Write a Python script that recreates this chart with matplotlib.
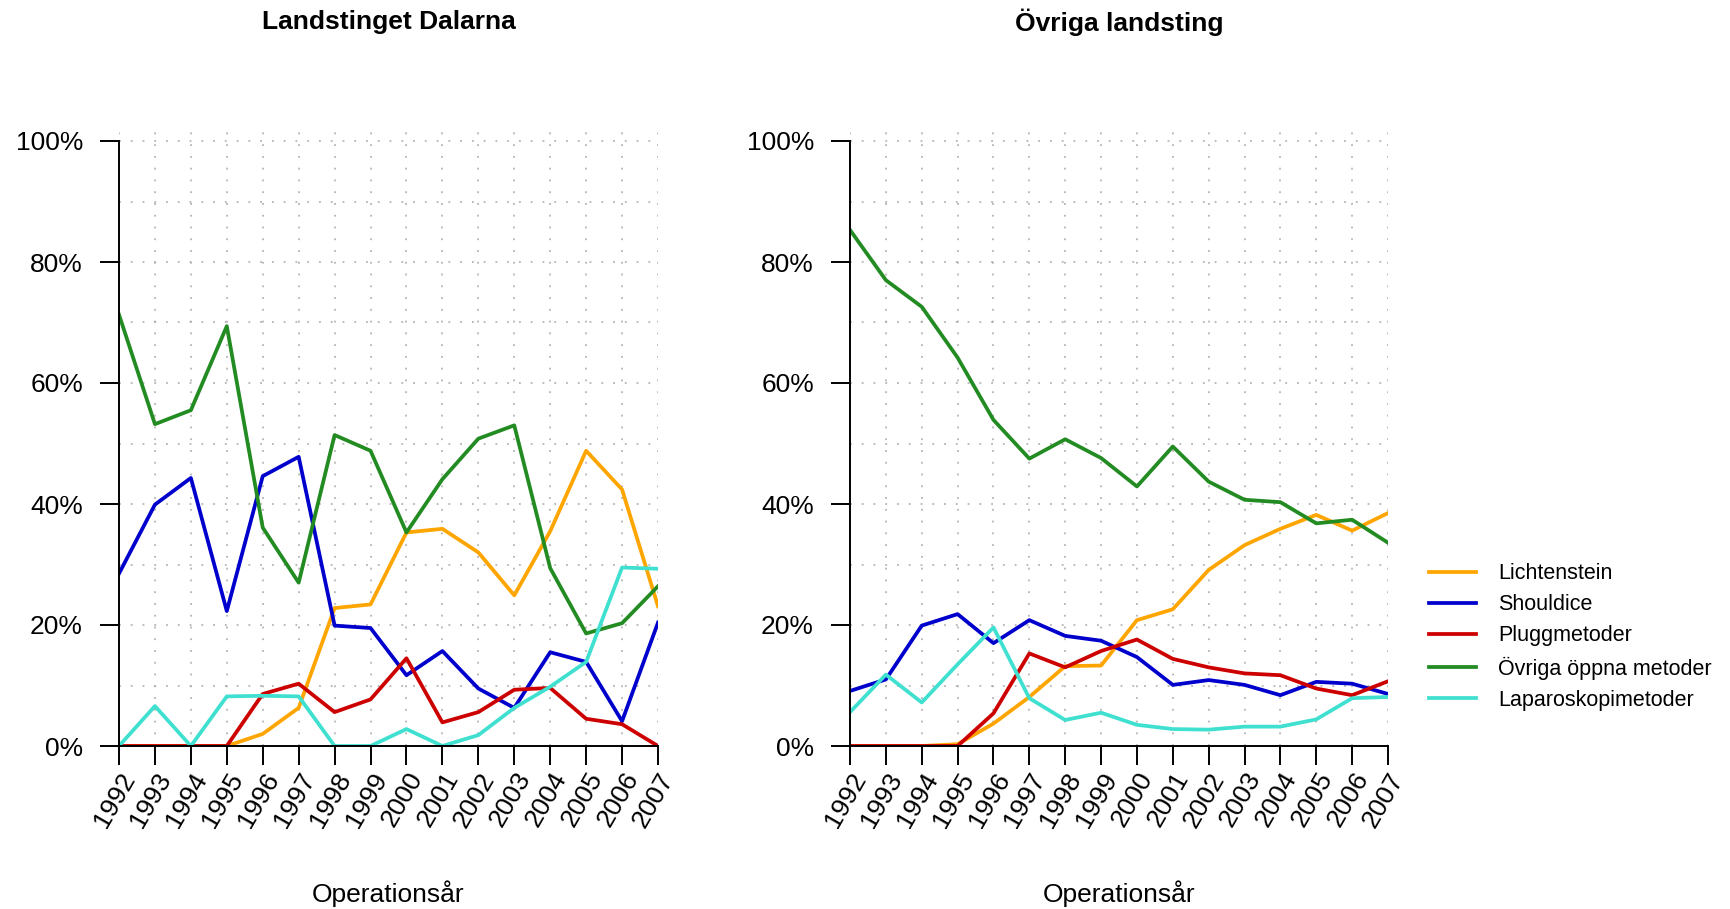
import matplotlib.pyplot as plt
import numpy as np
from matplotlib.ticker import FuncFormatter

plt.rcParams["font.family"] = ["Liberation Sans", "DejaVu Sans"]

years = list(range(1992, 2008))
methods = ["Lichtenstein", "Shouldice", "Pluggmetoder", "Övriga öppna metoder", "Laparoskopimetoder"]
colors = ["#FFA500", "#0000CD", "#CD0000", "#228B22", "#40E0D0"]

# Landstinget Dalarna (andel per operationsår)
dalarna_lichtenstein = [0, 0, 0, 0, 0.020, 0.063, 0.228, 0.234, 0.353, 0.359, 0.320, 0.249, 0.355, 0.488, 0.424, 0.231]
dalarna_shouldice = [0.285, 0.399, 0.443, 0.223, 0.446, 0.478, 0.199, 0.195, 0.117, 0.157, 0.095, 0.063, 0.155, 0.139, 0.041, 0.204]
dalarna_plugg = [0, 0, 0, 0, 0.086, 0.103, 0.056, 0.077, 0.145, 0.039, 0.056, 0.093, 0.096, 0.045, 0.036, 0.0]
dalarna_ovriga = [0.713, 0.532, 0.555, 0.694, 0.361, 0.270, 0.514, 0.488, 0.353, 0.441, 0.508, 0.530, 0.294, 0.186, 0.203, 0.264]
dalarna_laparo = [0, 0.066, 0, 0.082, 0.083, 0.082, 0, 0, 0.028, 0.0, 0.018, 0.063, 0.098, 0.139, 0.295, 0.293]

# Övriga landsting
ovriga_lichtenstein = [0, 0, 0, 0.003, 0.037, 0.081, 0.132, 0.133, 0.208, 0.226, 0.291, 0.332, 0.359, 0.382, 0.356, 0.385]
ovriga_shouldice = [0.091, 0.110, 0.199, 0.218, 0.170, 0.208, 0.182, 0.174, 0.147, 0.101, 0.109, 0.101, 0.084, 0.106, 0.103, 0.086]
ovriga_plugg = [0, 0, 0, 0, 0.054, 0.153, 0.130, 0.157, 0.176, 0.144, 0.130, 0.120, 0.117, 0.095, 0.084, 0.107]
ovriga_ovriga = [0.853, 0.770, 0.726, 0.642, 0.539, 0.475, 0.507, 0.476, 0.429, 0.495, 0.437, 0.407, 0.403, 0.368, 0.374, 0.336]
ovriga_laparo = [0.056, 0.118, 0.072, 0.135, 0.196, 0.079, 0.043, 0.055, 0.035, 0.028, 0.027, 0.032, 0.032, 0.044, 0.079, 0.081]

panels = [
    ("Landstinget Dalarna", [dalarna_lichtenstein, dalarna_shouldice, dalarna_plugg, dalarna_ovriga, dalarna_laparo]),
    ("Övriga landsting", [ovriga_lichtenstein, ovriga_shouldice, ovriga_plugg, ovriga_ovriga, ovriga_laparo]),
]

W, H = 1730, 909
fig = plt.figure(figsize=(W / 100, H / 100), dpi=100)
y0, y1 = 746, 141  # pixel rows for 0% and 100%
ytop = 1.03
ax_h = (y0 - y1) * ytop / H
lefts = [(119, 658), (850, 1388)]
grid_ls = (0, (1.2, 6.5))

axes = []
for (px0, px1), (title, series) in zip(lefts, panels):
    ax = fig.add_axes([px0 / W, 1 - y0 / H, (px1 - px0) / W, ax_h])
    for vals, name, c in zip(series, methods, colors):
        ax.plot(years, vals, color=c, lw=2.7, label=name)
    for yr in years:
        ax.axvline(yr, color="#A8A8A8", lw=1.1, ls=grid_ls, zorder=0)
    for g in np.arange(0.1, 1.01, 0.1):
        ax.axhline(g, color="#A8A8A8", lw=1.1, ls=grid_ls, zorder=0)
    ax.set_xlim(1992, 2007)
    ax.set_ylim(0, ytop)
    ax.spines["top"].set_visible(False)
    ax.spines["right"].set_visible(False)
    ax.spines["left"].set_bounds(0, 1)
    ax.spines["left"].set_linewidth(1.4)
    ax.spines["bottom"].set_linewidth(1.4)
    ax.set_yticks([0, 0.2, 0.4, 0.6, 0.8, 1.0])
    ax.yaxis.set_major_formatter(FuncFormatter(lambda v, p: f"{v * 100:.0f}%"))
    ax.set_xticks(years)
    ax.set_xticklabels([str(y) for y in years], rotation=60, ha="right", rotation_mode="anchor")
    ax.tick_params(axis="y", length=14, width=1.4, pad=12, labelsize=19)
    ax.tick_params(axis="x", length=14, width=1.4, pad=2, labelsize=19)
    fig.text((px0 + px1) / 2 / W, 1 - 22 / H, title, ha="center", va="center", fontsize=19, fontweight="bold")
    fig.text((px0 + px1) / 2 / W, 1 - 894 / H, "Operationsår", ha="center", va="center", fontsize=19)
    axes.append(ax)

axes[1].legend(loc="center left", bbox_to_anchor=(1429 / W, 1 - 637 / H), bbox_transform=fig.transFigure,
               frameon=False, fontsize=15.5, handlelength=2.2, handletextpad=1.0, labelspacing=0.47,
               borderpad=0, borderaxespad=0)

fig.savefig("out.png", dpi=100)
